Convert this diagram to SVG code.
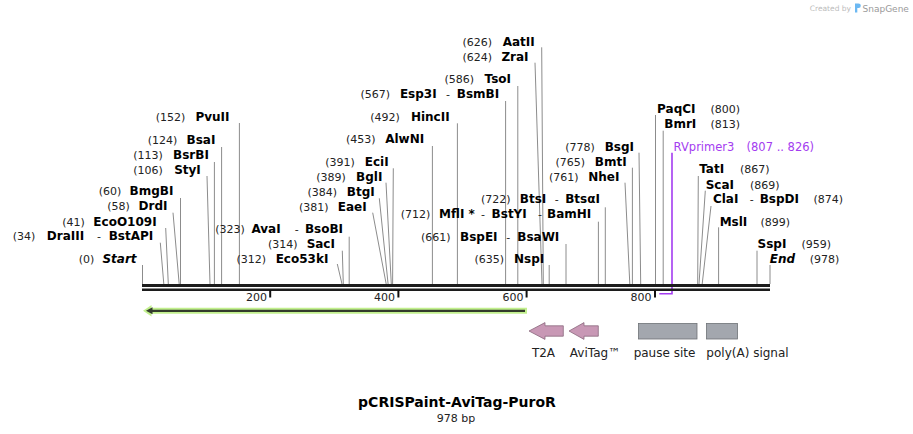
<svg xmlns="http://www.w3.org/2000/svg" width="913" height="434" viewBox="0 0 913 434">
<style>
text{font-family:"DejaVu Sans",Verdana,sans-serif;text-anchor:middle}
.n{font-size:11px;fill:#222}
.b{font-size:12px;font-weight:bold;fill:#000}
.bi{font-size:12px;font-weight:bold;font-style:italic;fill:#000}
.d{font-size:11px;fill:#222}
.p{font-size:11.5px;fill:#a43cf0}
.f{font-size:12px;fill:#222}
.t{font-size:11px;fill:#222;text-anchor:end}
.ln{stroke:#8c8c8c;stroke-width:1;fill:none}
.tick{stroke:#111;stroke-width:2}
</style>
<rect width="913" height="434" fill="#fff"/>
<g id="watermark">
<text x="851" y="11" style="font-size:7.5px;fill:#bcbcbc;text-anchor:end">Created by</text>
<path d="M855 3.5 h3.5 a2.3 2.3 0 0 1 0 4.6 h-1.2 v4.4 h-2.3 z" fill="#6cb8f2"/>
<text x="862.5" y="12" style="font-size:9px;fill:#9a9a9a;text-anchor:start">SnapGene</text>
</g>
<g id="connectors">
<path class="ln" d="M142.5 265V284M160.3 242.7L163.8 284M165.7 228L168.3 284M173 212.7L179.2 284M180.5 198V284M207 176L210 284M214.4 162V284M221.6 147V284M239.4 123V284"/>
<path class="ln" d="M337.3 264L342 284M342.3 250.7L343.3 284M349.2 236.7V284M372.7 212.7L386.2 284M379.3 198.3L388.1 284M386 182.7L391.3 284M393.3 168.3L392.6 284M432.4 146V284M457.4 123.3V284M505.6 101V284M517.8 86V284M535 62.7L542 284M541.7 47.3L543.3 284M549.2 265V284M566 244V284M598.4 221.7V284M605.3 207.3V284M625 182.7L629.8 284M632.4 167.7V284M639 152.7L640.7 284"/>
<path class="ln" d="M655.5 115V284M663.2 130.7V284M698.3 176L697.7 284M705.3 190.7L699 284M711 206L702.2 284M718.6 227.3V284M757 250.7V284M770 265V284"/>
<path d="M672 152.7V294.5M659.3 293.8H672" stroke="#a43cf0" stroke-width="1.6" fill="none"/>
</g>
<g id="ruler">
<rect x="142" y="284" width="628" height="3" fill="#1c1c1c"/>
<rect x="142" y="288.5" width="628" height="2.5" fill="#1c1c1c"/>
<path class="tick" d="M270.2 290V297.5M398.4 290V297.5M526.6 290V297.5M655 290V297.5"/>
<text class="t" x="267" y="300.5">200</text>
<text class="t" x="395" y="300.5">400</text>
<text class="t" x="523.5" y="300.5">600</text>
<text class="t" x="651.5" y="300.5">800</text>
</g>
<g id="orf">
<polygon points="143,310.8 151.5,305 151.5,307.8 527,307.8 527,313.8 151.5,313.8 151.5,316.6" fill="#c2f08e"/>
<path d="M151 310.8H525" stroke="#333b2c" stroke-width="2.2"/>
<polygon points="146,310.8 152.5,307.3 152.5,314.3" fill="#333b2c"/>
</g>
<g id="T2A">
<polygon points="529,331 545,322.6 545,325.8 563.3,325.8 563.3,336.2 545,336.2 545,339.4" fill="#c898b5" stroke="#8a6a7e" stroke-width="0.8"/>
<text class="f" x="543.5" y="357">T2A</text>
</g>
<g id="AviTag">
<polygon points="569,331 584,322.6 584,325.8 598.3,325.8 598.3,336.2 584,336.2 584,339.4" fill="#c898b5" stroke="#8a6a7e" stroke-width="0.8"/>
<text class="f" x="595" y="357">AviTag™</text>
</g>
<g id="pause-site">
<rect x="638.5" y="323.5" width="58.5" height="15.5" fill="#a3a7ae" stroke="#6e7277" stroke-width="0.8"/>
<text class="f" x="664.5" y="357">pause site</text>
</g>
<g id="polyA-signal">
<rect x="706.5" y="323.5" width="31" height="15.5" fill="#a3a7ae" stroke="#6e7277" stroke-width="0.8"/>
<text class="f" x="747.5" y="357">poly(A) signal</text>
</g>
<g id="Start"><text class="n" x="86.5" y="263">(0)</text><text class="bi" x="119.5" y="263">Start</text></g>
<g id="DraIII"><text class="n" x="24" y="240">(34)</text><text class="b" x="65.5" y="240">DraIII</text><text class="d" x="99" y="240">-</text><text class="b" x="131" y="240">BstAPI</text></g>
<g id="EcoO109I"><text class="n" x="73.5" y="225.7">(41)</text><text class="b" x="125" y="225.7">EcoO109I</text></g>
<g id="DrdI"><text class="n" x="118.5" y="210">(58)</text><text class="b" x="153" y="210">DrdI</text></g>
<g id="BmgBI"><text class="n" x="110" y="195">(60)</text><text class="b" x="151.5" y="195">BmgBI</text></g>
<g id="StyI"><text class="n" x="148" y="174">(106)</text><text class="b" x="187.5" y="174">StyI</text></g>
<g id="BsrBI"><text class="n" x="148" y="159">(113)</text><text class="b" x="191" y="159">BsrBI</text></g>
<g id="BsaI"><text class="n" x="162.5" y="144.3">(124)</text><text class="b" x="201" y="144.3">BsaI</text></g>
<g id="PvuII"><text class="n" x="170.5" y="120.8">(152)</text><text class="b" x="212.5" y="120.8">PvuII</text></g>
<g id="Eco53kI"><text class="n" x="251.3" y="263.3">(312)</text><text class="b" x="302" y="263.3">Eco53kI</text></g>
<g id="SacI"><text class="n" x="282.7" y="248.3">(314)</text><text class="b" x="320.8" y="248.3">SacI</text></g>
<g id="AvaI"><text class="n" x="230" y="233.3">(323)</text><text class="b" x="266" y="233.3">AvaI</text><text class="d" x="296.7" y="233.3">-</text><text class="b" x="324" y="233.3">BsoBI</text></g>
<g id="EaeI"><text class="n" x="313.8" y="210.7">(381)</text><text class="b" x="352.2" y="210.7">EaeI</text></g>
<g id="BtgI"><text class="n" x="322.3" y="196">(384)</text><text class="b" x="360.8" y="196">BtgI</text></g>
<g id="BglI"><text class="n" x="331" y="181">(389)</text><text class="b" x="369.2" y="181">BglI</text></g>
<g id="EciI"><text class="n" x="340" y="166">(391)</text><text class="b" x="376.7" y="166">EciI</text></g>
<g id="AlwNI"><text class="n" x="360.7" y="143.3">(453)</text><text class="b" x="404.7" y="143.3">AlwNI</text></g>
<g id="HincII"><text class="n" x="385" y="120.7">(492)</text><text class="b" x="430.3" y="120.7">HincII</text></g>
<g id="Esp3I"><text class="n" x="375.3" y="98.3">(567)</text><text class="b" x="418.3" y="98.3">Esp3I</text><text class="d" x="448" y="98.3">-</text><text class="b" x="478" y="98.3">BsmBI</text></g>
<g id="TsoI"><text class="n" x="459.3" y="83.3">(586)</text><text class="b" x="497.8" y="83.3">TsoI</text></g>
<g id="ZraI"><text class="n" x="477.3" y="60.7">(624)</text><text class="b" x="515" y="60.7">ZraI</text></g>
<g id="AatII"><text class="n" x="477.3" y="45.7">(626)</text><text class="b" x="518.7" y="45.7">AatII</text></g>
<g id="NspI"><text class="n" x="489.3" y="263.3">(635)</text><text class="b" x="529.2" y="263.3">NspI</text></g>
<g id="BspEI"><text class="n" x="435.8" y="240.7">(661)</text><text class="b" x="478.8" y="240.7">BspEI</text><text class="d" x="508.3" y="240.7">-</text><text class="b" x="538.3" y="240.7">BsaWI</text></g>
<g id="MflI"><text class="n" x="415.5" y="218.3">(712)</text><text class="b" x="457" y="218.3">MflI *</text><text class="d" x="483" y="218.3">-</text><text class="b" x="509.2" y="218.3">BstYI</text><text class="d" x="540" y="218.3">-</text><text class="b" x="569.2" y="218.3">BamHI</text></g>
<g id="BtsI"><text class="n" x="495.7" y="203.3">(722)</text><text class="b" x="533" y="203.3">BtsI</text><text class="d" x="556.7" y="203.3">-</text><text class="b" x="582.5" y="203.3">BtsαI</text></g>
<g id="NheI"><text class="n" x="563.8" y="180.7">(761)</text><text class="b" x="603.8" y="180.7">NheI</text></g>
<g id="BmtI"><text class="n" x="570.3" y="165.7">(765)</text><text class="b" x="610.8" y="165.7">BmtI</text></g>
<g id="BsgI"><text class="n" x="580" y="150.7">(778)</text><text class="b" x="619.3" y="150.7">BsgI</text></g>
<g id="PaqCI"><text class="b" x="676.3" y="113.3">PaqCI</text><text class="n" x="725.3" y="113.3">(800)</text></g>
<g id="BmrI"><text class="b" x="680.3" y="128.3">BmrI</text><text class="n" x="725.3" y="128.3">(813)</text></g>
<g id="RVprimer3"><text class="p" x="704" y="150.7">RVprimer3</text><text class="p" x="780.3" y="150.7">(807 .. 826)</text></g>
<g id="TatI"><text class="b" x="711.7" y="173.3">TatI</text><text class="n" x="754.7" y="173.3">(867)</text></g>
<g id="ScaI"><text class="b" x="719.8" y="188.7">ScaI</text><text class="n" x="764.7" y="188.7">(869)</text></g>
<g id="ClaI"><text class="b" x="725.7" y="203.3">ClaI</text><text class="d" x="751.7" y="203.3">-</text><text class="b" x="779.3" y="203.3">BspDI</text><text class="n" x="828.3" y="203.3">(874)</text></g>
<g id="MslI"><text class="b" x="733.5" y="226">MslI</text><text class="n" x="775.3" y="226">(899)</text></g>
<g id="SspI"><text class="b" x="772" y="248.3">SspI</text><text class="n" x="816.3" y="248.3">(959)</text></g>
<g id="End"><text class="bi" x="782.5" y="263.3">End</text><text class="n" x="824.5" y="263.3">(978)</text></g>
<g id="title">
<text x="457" y="406.5" style="font-size:14px;font-weight:bold;fill:#000">pCRISPaint-AviTag-PuroR</text>
<text x="456" y="421.5" class="n">978 bp</text>
</g>
</svg>
